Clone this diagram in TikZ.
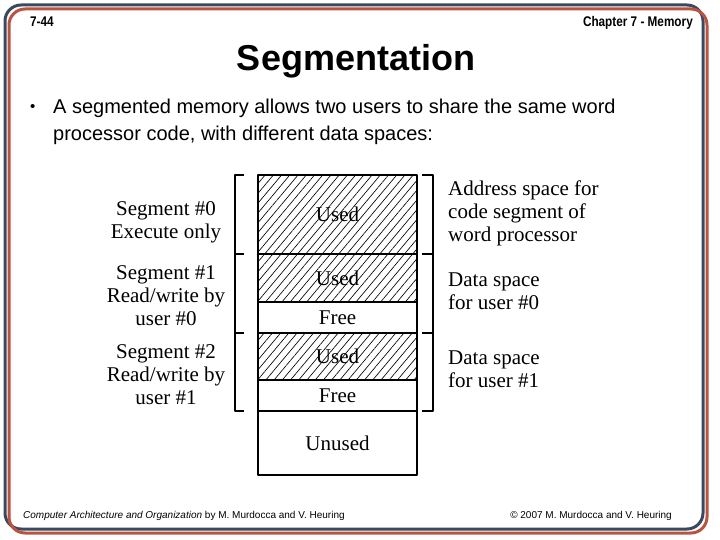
\documentclass[tikz,border=0pt]{standalone}
\usepackage{fontspec}
\setmainfont{Liberation Serif}
\setsansfont{Liberation Sans}
\newfontfamily\narrowsf[FakeStretch=0.84]{Liberation Sans}
\usepackage{xcolor}
\usetikzlibrary{positioning,patterns.meta}
\definecolor{frameblue}{RGB}{58,74,94}
\definecolor{framered}{RGB}{184,84,64}

\begin{document}
\begin{tikzpicture}[x=1pt,y=-1pt,line join=round,
  memrow/.style={draw,rectangle,line width=1.7pt,outer sep=0pt,inner sep=0pt,
    minimum width=159pt,font=\fontsize{21}{23}\selectfont},
  usedrow/.style={memrow,pattern={Lines[angle=50,distance=6.3pt,line width=0.65pt]}},
  seglabel/.style={align=center,inner sep=0pt,font=\fontsize{21}{23}\selectfont},
  spacelabel/.style={align=left,anchor=west,inner sep=0pt,font=\fontsize{21}{23}\selectfont},
  brace/.style={line width=2.6pt,line cap=rect},
  headtext/.style={inner sep=0pt,font=\narrowsf\bfseries\fontsize{14}{16}\selectfont},
  foottext/.style={inner sep=0pt,font=\sffamily\fontsize{10}{12}\selectfont}]
  \useasboundingbox (0,0) rectangle (720,540);
  % slide frame
  \draw[frameblue,line width=3pt,rounded corners=16pt] (5,5) rectangle (703,529);
  \draw[framered,line width=3pt,rounded corners=16pt] (9,9) rectangle (707,533);
  % header and title
  \node[headtext,anchor=base west] (slideno) at (30,27) {7-44};
  \node[headtext,anchor=base east] (chapter) at (693,27) {Chapter 7 - Memory};
  \node[anchor=base,inner sep=0pt,font=\sffamily\bfseries\fontsize{36}{40}\selectfont] (title) at (356,71) {Segmentation};
  \node[anchor=base west,inner sep=0pt,font=\sffamily\fontsize{15}{17}\selectfont] (bullet) at (30,111.5) {\textbullet};
  \node[anchor=base west,inner sep=0pt,font=\sffamily\fontsize{20}{24}\selectfont] (intro1) at (53,114) {A segmented memory allows two users to share the same word};
  \node[anchor=base west,inner sep=0pt,font=\sffamily\fontsize{20}{24}\selectfont] (intro2) at (53,141) {processor code, with different data spaces:};
  % memory map
  \node[usedrow,minimum height=79pt,anchor=north west] (code) at (258,175) {Used};
  \node[usedrow,minimum height=48pt,below=0pt of code] (data0) {Used};
  \node[memrow,minimum height=31pt,below=0pt of data0] (free0) {Free};
  \node[usedrow,minimum height=47pt,below=0pt of free0] (data1) {Used};
  \node[memrow,minimum height=31pt,below=0pt of data1] (free1) {Free};
  \node[memrow,minimum height=64pt,below=0pt of free1] (unused) {Unused};
  % brackets
  \draw[brace] ([xshift=-15pt]code.north west) -| ([xshift=-23pt]free1.south west) -- ([xshift=-15pt]free1.south west);
  \draw[brace] ([xshift=-23pt]code.south west) -- ++(8,0);
  \draw[brace] ([xshift=-23pt]free0.south west) -- ++(8,0);
  \draw[brace] ([xshift=6pt]code.north east) -| ([xshift=16pt]free1.south east) -- ([xshift=6pt]free1.south east);
  \draw[brace] ([xshift=16pt]code.south east) -- ++(-10,0);
  \draw[brace] ([xshift=16pt]free0.south east) -- ++(-10,0);
  % labels
  \node[seglabel] (seg0) at (166,222) {Segment \#0\\Execute only};
  \node[seglabel] (seg1) at (166,296) {Segment \#1\\Read/write by\\user \#0};
  \node[seglabel] (seg2) at (166,374.5) {Segment \#2\\Read/write by\\user \#1};
  \node[spacelabel] (codespace) at (448,213) {Address space for\\code segment of\\word processor};
  \node[spacelabel] (space0) at (448,291.5) {Data space\\for user \#0};
  \node[spacelabel] (space1) at (448,369.5) {Data space\\for user \#1};
  % footer
  \node[foottext,anchor=base west] (book) at (23,518) {\textit{Computer Architecture and Organization} by M. Murdocca and V. Heuring};
  \node[foottext,anchor=base east] (rights) at (672,518) {\textcopyright\ 2007 M. Murdocca and V. Heuring};
\end{tikzpicture}
\end{document}
